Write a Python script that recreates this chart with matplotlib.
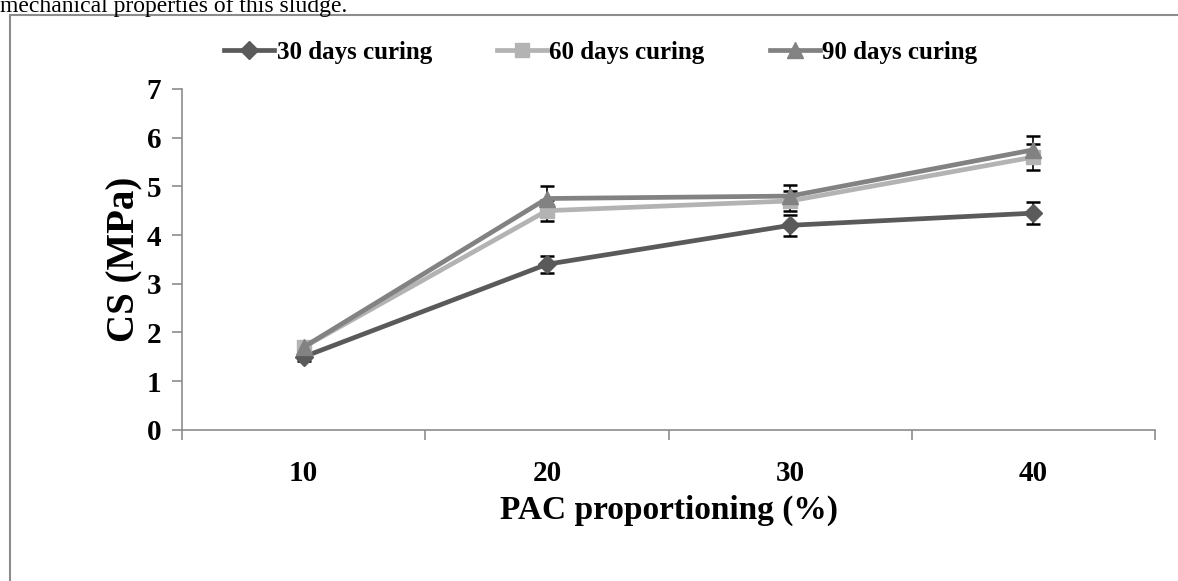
import matplotlib
matplotlib.use("Agg")
import matplotlib.pyplot as plt
from matplotlib.patches import Rectangle

categories = ["10", "20", "30", "40"]
series_names = ["30 days curing", "60 days curing", "90 days curing"]
cs_30 = [1.5, 3.4, 4.2, 4.45]
cs_60 = [1.7, 4.5, 4.7, 5.6]
cs_90 = [1.7, 4.75, 4.8, 5.75]
err_30 = [0.08, 0.17, 0.21, 0.22]
err_60 = [0.08, 0.22, 0.2, 0.27]
err_90 = [0.08, 0.25, 0.23, 0.28]

colors = ["#5a5a5a", "#b3b3b3", "#828282"]
markers = ["D", "s", "^"]
msizes = [9, 10, 11]

plt.rcParams['font.family'] = ['Liberation Serif', 'DejaVu Serif']

fig = plt.figure(figsize=(11.78, 5.81), dpi=100)
ax = fig.add_axes([0.1545, 0.26, 0.826, 0.587])

x = list(range(len(categories)))
values = [cs_30, cs_60, cs_90]
errs = [err_30, err_60, err_90]

for v, e in zip(values, errs):
    ax.errorbar(x, v, yerr=e, fmt='none', ecolor='black', elinewidth=1.2,
                capsize=5, capthick=1.8, zorder=2)

handles = []
for v, c, m, ms, name in zip(values, colors, markers, msizes, series_names):
    h, = ax.plot(x, v, color=c, lw=3.4, marker=m, markersize=ms,
                 markerfacecolor=c, markeredgecolor=c, label=name, zorder=3)
    handles.append(h)

ax.set_xlim(-0.5, len(categories) - 0.5)
ax.set_ylim(0, 7)
ax.set_yticks(range(0, 8))
ax.set_xticks([i - 0.5 for i in range(len(categories) + 1)], minor=False)
ax.set_xticklabels([""] * (len(categories) + 1))
ax.set_xticks(x, minor=True)
ax.set_xticklabels(categories, minor=True)
ax.tick_params(axis='x', which='minor', length=0, pad=22, labelsize=21)
ax.tick_params(axis='x', which='major', length=7, direction='out', color='#8c8c8c', width=1.2)
ax.tick_params(axis='y', length=7, direction='out', color='#8c8c8c', width=1.2, labelsize=21, pad=8)
for lbl in ax.get_yticklabels() + ax.get_xticklabels(minor=True):
    lbl.set_fontweight('bold')

for s in ['top', 'right']:
    ax.spines[s].set_visible(False)
for s in ['left', 'bottom']:
    ax.spines[s].set_color('#8c8c8c')
    ax.spines[s].set_linewidth(1.2)

ax.set_xlabel("PAC proportioning (%)", fontsize=24, fontweight='bold', labelpad=5)
ax.set_ylabel("CS (MPa)", fontsize=28, fontweight='bold', labelpad=2)

fig.legend(handles=handles, loc='center', bbox_to_anchor=(0.51, 0.91), ncol=3,
           frameon=False, prop={'weight': 'bold', 'size': 18}, handlelength=2.0,
           handletextpad=0.1, columnspacing=2.6)

fig.patches.append(Rectangle((10 / 1178, -0.1), 1.2, 1 - 15 / 581 + 0.1,
                             transform=fig.transFigure, fill=False,
                             edgecolor='#8c8c8c', linewidth=1.5, zorder=0))

fig.text(0.0, 1 - 12 / 581, "mechanical properties of this sludge.", fontsize=17,
         ha='left', va='baseline')

fig.savefig("out.png", dpi=100)
